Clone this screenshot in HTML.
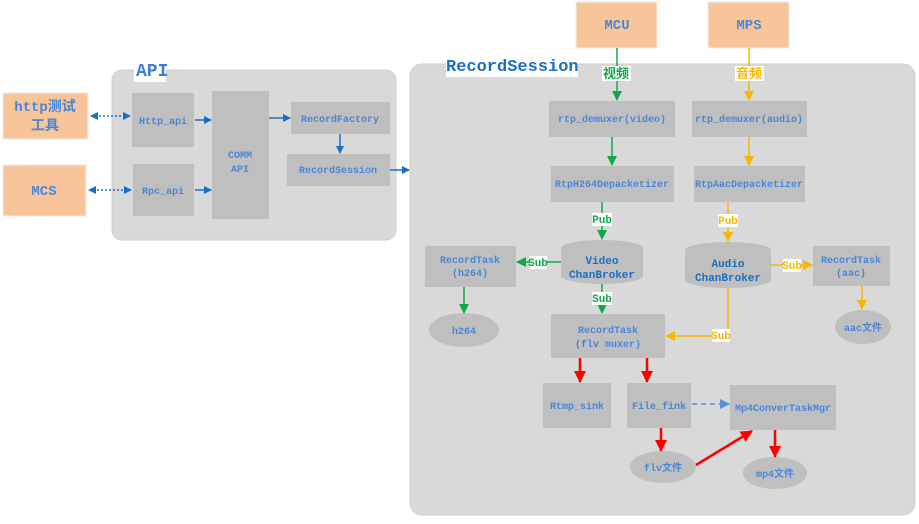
<!DOCTYPE html>
<html><head><meta charset="utf-8"><style>
html,body{margin:0;padding:0;background:#fff;}
svg text{font-family:"Liberation Mono","Noto Sans CJK SC",monospace;font-weight:bold;}
</style></head><body>
<svg width="919" height="519" viewBox="0 0 919 519" xmlns="http://www.w3.org/2000/svg">
<defs>
<marker id="ab" markerWidth="8" markerHeight="8" refX="7" refY="4" orient="auto" markerUnits="userSpaceOnUse"><path d="M0,0 L8,4 L0,8z" fill="#1a6fc4"/></marker>
<marker id="abs" markerWidth="8" markerHeight="8" refX="1" refY="4" orient="auto" markerUnits="userSpaceOnUse"><path d="M8,0 L0,4 L8,8z" fill="#1a6fc4"/></marker>
<marker id="ag" markerWidth="10" markerHeight="10" refX="9" refY="5" orient="auto" markerUnits="userSpaceOnUse"><path d="M0,0 L10,5 L0,10z" fill="#12a84a"/></marker>
<marker id="ay" markerWidth="10" markerHeight="10" refX="9" refY="5" orient="auto" markerUnits="userSpaceOnUse"><path d="M0,0 L10,5 L0,10z" fill="#f5b800"/></marker>
<marker id="ar" markerWidth="12" markerHeight="12" refX="11" refY="6" orient="auto" markerUnits="userSpaceOnUse"><path d="M0,0 L12,6 L0,12z" fill="#f00"/></marker>
<marker id="al" markerWidth="10" markerHeight="10" refX="9" refY="5" orient="auto" markerUnits="userSpaceOnUse"><path d="M0,0 L10,5 L0,10z" fill="#5b8fd6"/></marker>
</defs>
<!-- containers -->
<rect x="112" y="70" width="284" height="170" rx="10" fill="#d9d9d9" stroke="#cfcfcf"/>
<rect x="410" y="64" width="505" height="451" rx="12" fill="#d9d9d9" stroke="#cfcfcf"/>
<rect x="134" y="57" width="32" height="25" fill="#fff"/>
<text x="136" y="76" font-size="18" fill="#3a7fd0" font-family="Liberation Sans">API</text>
<rect x="446" y="52" width="132" height="25" fill="#fff"/>
<text x="446" y="71" font-size="17" fill="#1a6fc4">RecordSession</text>
<!-- orange -->
<g fill="#f8c49a" stroke="#eee">
<rect x="3" y="93" width="85" height="46"/><rect x="3" y="165" width="83" height="51"/>
<rect x="576" y="2" width="81" height="46"/><rect x="708" y="2" width="81" height="46"/>
</g>
<g font-size="14" fill="#4a86d8" text-anchor="middle">
<text x="45" y="111">http测试</text><text x="45" y="130">工具</text>
<text x="44" y="195">MCS</text><text x="617" y="29">MCU</text><text x="749" y="29">MPS</text>
</g>
<!-- grey boxes -->
<g fill="#bfbfbf">
<rect x="132" y="93" width="62" height="54"/><rect x="133" y="164" width="61" height="52"/>
<rect x="212" y="91" width="57" height="128"/><rect x="291" y="102" width="99" height="32"/>
<rect x="287" y="154" width="103" height="32"/>
<rect x="549" y="101" width="126" height="36"/><rect x="692" y="101" width="115" height="36"/>
<rect x="551" y="166" width="123" height="36"/><rect x="694" y="166" width="111" height="36"/>
<rect x="425" y="246" width="91" height="41"/><rect x="813" y="246" width="77" height="40"/>
<rect x="551" y="314" width="114" height="44"/>
<rect x="543" y="383" width="68" height="45"/><rect x="627" y="383" width="64" height="45"/>
<rect x="730" y="385" width="106" height="45"/>
<path d="M561,248 A41,8 0 0 1 643,248 L643,276 A41,8 0 0 1 561,276 Z"/>
<path d="M685,250 A43,8 0 0 1 771,250 L771,280 A43,8 0 0 1 685,280 Z"/>
<ellipse cx="464" cy="330" rx="35" ry="17"/><ellipse cx="863" cy="327" rx="28" ry="17"/>
<ellipse cx="663" cy="467" rx="33" ry="16"/><ellipse cx="775" cy="473" rx="32" ry="16"/>
</g>
<g font-size="10" fill="#4a86d8" text-anchor="middle">
<text x="163" y="124">Http_api</text><text x="163" y="194">Rpc_api</text>
<text x="240" y="158">COMM</text><text x="240" y="172">API</text>
<text x="340" y="122">RecordFactory</text><text x="338" y="173">RecordSession</text>
<text x="612" y="122">rtp_demuxer(video)</text><text x="749" y="122">rtp_demuxer(audio)</text>
<text x="612" y="187">RtpH264Depacketizer</text><text x="749" y="187">RtpAacDepacketizer</text>
<text x="470" y="263">RecordTask</text><text x="470" y="276">(h264)</text>
<text x="851" y="263">RecordTask</text><text x="851" y="276">(aac)</text>
<text x="608" y="333">RecordTask</text><text x="608" y="347">(flv muxer)</text>
<text x="577" y="409">Rtmp_sink</text><text x="659" y="409">File_fink</text>
<text x="783" y="411">Mp4ConverTaskMgr</text>
<text x="464" y="334">h264</text><text x="863" y="331">aac文件</text>
<text x="663" y="471">flv文件</text><text x="775" y="477">mp4文件</text>
</g>
<g font-size="11" fill="#1a6fc4" text-anchor="middle">
<text x="602" y="264">Video</text><text x="602" y="278">ChanBroker</text>
<text x="728" y="267">Audio</text><text x="728" y="281">ChanBroker</text>
</g>
<!-- blue arrows -->
<g stroke="#1a6fc4" stroke-width="1.5" fill="none">
<line x1="91" y1="116" x2="130" y2="116" stroke-dasharray="2,2" marker-start="url(#abs)" marker-end="url(#ab)"/>
<line x1="89" y1="190" x2="131" y2="190" stroke-dasharray="2,2" marker-start="url(#abs)" marker-end="url(#ab)"/>
<line x1="195" y1="120" x2="211" y2="120" marker-end="url(#ab)"/>
<line x1="195" y1="190" x2="211" y2="190" marker-end="url(#ab)"/>
<line x1="269" y1="118" x2="290" y2="118" marker-end="url(#ab)"/>
<line x1="340" y1="134" x2="340" y2="153" marker-end="url(#ab)"/>
<line x1="390" y1="170" x2="409" y2="170" marker-end="url(#ab)"/>
</g>
<!-- green -->
<g stroke="#12a84a" stroke-width="1.5" fill="none">
<line x1="617" y1="48" x2="617" y2="100" marker-end="url(#ag)"/>
<line x1="612" y1="137" x2="612" y2="165" marker-end="url(#ag)"/>
<line x1="602" y1="202" x2="602" y2="239" marker-end="url(#ag)"/>
<line x1="561" y1="262" x2="517" y2="262" marker-end="url(#ag)"/>
<line x1="602" y1="284" x2="602" y2="313" marker-end="url(#ag)"/>
<line x1="464" y1="287" x2="464" y2="313" marker-end="url(#ag)"/>
</g>
<!-- yellow -->
<g stroke="#f5b800" stroke-width="1.5" fill="none">
<line x1="749" y1="48" x2="749" y2="100" marker-end="url(#ay)"/>
<line x1="749" y1="137" x2="749" y2="165" marker-end="url(#ay)"/>
<line x1="728" y1="202" x2="728" y2="241" marker-end="url(#ay)"/>
<line x1="771" y1="265" x2="812" y2="265" marker-end="url(#ay)"/>
<polyline points="728,288 728,336 666,336" marker-end="url(#ay)"/>
<line x1="862" y1="286" x2="862" y2="309" marker-end="url(#ay)"/>
</g>
<!-- labels -->
<g font-size="11" text-anchor="middle">
<rect x="602" y="66" width="29" height="15" fill="#fff"/><text x="616" y="78" fill="#12a84a" font-size="13">视频</text>
<rect x="735" y="66" width="29" height="15" fill="#fff"/><text x="749" y="78" fill="#f5b800" font-size="13">音频</text>
<rect x="592" y="213" width="20" height="13" fill="#fff"/><text x="602" y="223" fill="#12a84a">Pub</text>
<rect x="718" y="214" width="20" height="13" fill="#fff"/><text x="728" y="224" fill="#f5b800">Pub</text>
<rect x="530" y="256" width="17" height="13" fill="#fff"/><text x="538" y="266" fill="#12a84a">Sub</text>
<rect x="592" y="292" width="20" height="13" fill="#fff"/><text x="602" y="302" fill="#12a84a">Sub</text>
<rect x="783" y="259" width="18" height="13" fill="#fff"/><text x="792" y="269" fill="#f5b800">Sub</text>
<rect x="712" y="329" width="18" height="13" fill="#fff"/><text x="721" y="339" fill="#f5b800">Sub</text>
</g>
<!-- red -->
<g stroke="#f00" stroke-width="2.5" fill="none">
<line x1="580" y1="358" x2="580" y2="382" marker-end="url(#ar)"/>
<line x1="647" y1="358" x2="647" y2="382" marker-end="url(#ar)"/>
<line x1="661" y1="428" x2="661" y2="451" marker-end="url(#ar)"/>
<line x1="775" y1="430" x2="775" y2="457" marker-end="url(#ar)"/>
<line x1="696" y1="465" x2="752" y2="431" marker-end="url(#ar)"/>
</g>
<line x1="692" y1="404" x2="729" y2="404" stroke="#5b8fd6" stroke-width="1.5" stroke-dasharray="5,4" marker-end="url(#al)"/>
</svg>
</body></html>
